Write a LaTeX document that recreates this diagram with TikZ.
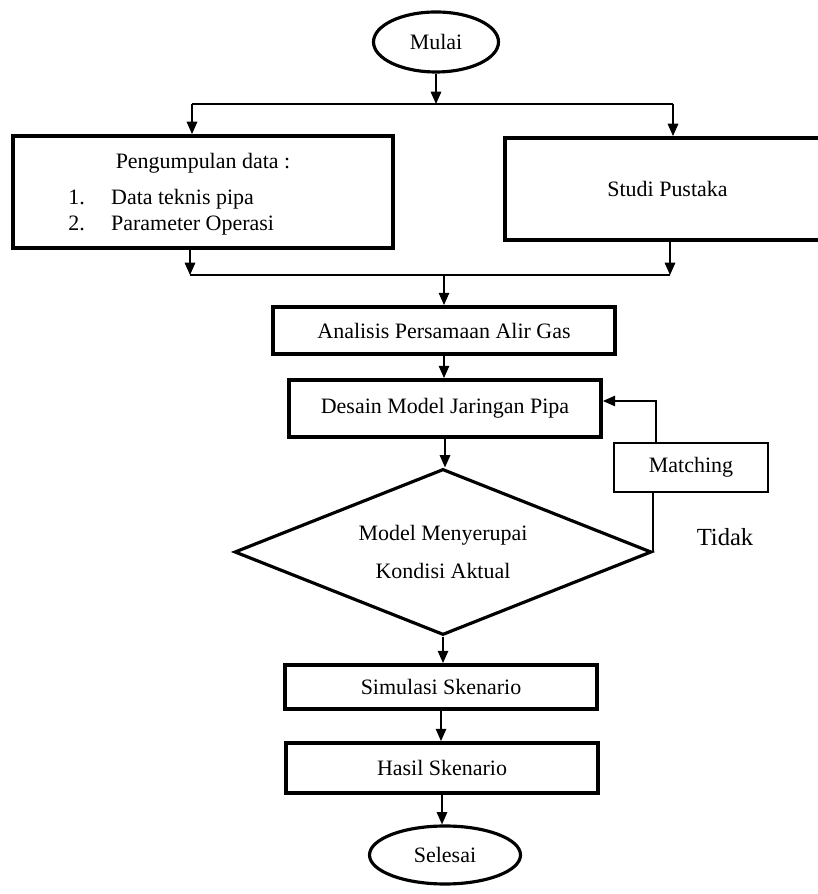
\documentclass[tikz,border=0pt]{standalone}
\usepackage{fontspec}
\setmainfont{Liberation Serif}
\usetikzlibrary{shapes.geometric,arrows.meta}
\pgfdeclarelayer{edgelayer}
\pgfdeclarelayer{nodelayer}
\pgfsetlayers{edgelayer,nodelayer,main}
\tikzstyle{edge}=[draw=black, line width=0.8pt]
\tikzstyle{flow}=[draw=black, line width=0.8pt, -{Triangle[width=6pt,length=7pt]}]
\tikzstyle{box}=[rectangle, draw=black, fill=white, line width=2.2pt, inner sep=0pt, font=\fontsize{12.5}{15}\selectfont]
\tikzstyle{thinbox}=[rectangle, draw=black, fill=white, line width=1.6pt, inner sep=0pt, font=\fontsize{12.5}{15}\selectfont]
\tikzstyle{terminal}=[ellipse, draw=black, fill=white, line width=1.8pt, inner sep=0pt, font=\fontsize{12.5}{15}\selectfont]
\tikzstyle{decision}=[diamond, draw=black, fill=white, line width=1.8pt, inner sep=0pt, aspect=2.51, align=center, font=\fontsize{12.5}{22}\selectfont]
\tikzstyle{txt}=[inner sep=0pt, font=\fontsize{12.5}{15}\selectfont]

\begin{document}
\begin{tikzpicture}
				\useasboundingbox (0, 0) rectangle (16.34, 17.88);
				\begin{pgfonlayer}{nodelayer}
					\node [style=terminal, minimum width=2.5cm, minimum height=1.2cm] (mulai) at (8.72, 17.04) {Mulai};
					\node [style=box, minimum width=7.6cm, minimum height=2.24cm] (data) at (4.06, 14.04) {};
					\node [style=txt] (datajudul) at (4.06, 14.62) {Pengumpulan data :};
					\node [style=txt, anchor=west] (data1) at (1.36, 13.90) {\makebox[1.95em][l]{1.}Data teknis pipa};
					\node [style=txt, anchor=west] (data2) at (1.36, 13.36) {\makebox[1.95em][l]{2.}Parameter Operasi};
					\node [style=box, minimum width=6.5cm, minimum height=2.04cm] (studi) at (13.35, 14.1) {Studi Pustaka};
					\node [style=box, minimum width=6.84cm, minimum height=0.94cm] (analisis) at (8.88, 11.27) {Analisis Persamaan Alir Gas};
					\node [style=box, minimum width=6.24cm, minimum height=1.14cm] (desain) at (8.90, 9.71) {Desain Model Jaringan Pipa};
					\node [style=thinbox, minimum width=3.08cm, minimum height=0.98cm] (matching) at (13.82, 8.53) {Matching};
					\node [style=decision, minimum width=8.34cm, minimum height=3.32cm] (cek) at (8.86, 6.84) {Model Menyerupai\\Kondisi Aktual};
					\node [style=txt, font=\fontsize{14}{17}\selectfont] (tidak) at (14.50, 7.14) {Tidak};
					\node [style=box, minimum width=6.24cm, minimum height=0.88cm] (simulasi) at (8.82, 4.14) {Simulasi Skenario};
					\node [style=box, minimum width=6.24cm, minimum height=1.0cm] (hasil) at (8.84, 2.52) {Hasil Skenario};
					\node [style=terminal, minimum width=3.02cm, minimum height=1.16cm] (selesai) at (8.90, 0.78) {Selesai};
				\end{pgfonlayer}
				\begin{pgfonlayer}{edgelayer}
					\coordinate (cabang) at (8.72, 15.80);
					\coordinate (cabangL) at (3.84, 15.80);
					\coordinate (cabangR) at (13.46, 15.80);
					\coordinate (gabungL) at (3.80, 12.38);
					\coordinate (gabungR) at (13.40, 12.38);
					\coordinate (gabung) at (8.88, 12.38);
					\coordinate (balik) at (13.12, 9.86);
					\draw [style=flow] (mulai) to (cabang);
					\draw [style=edge] (cabangL) to (cabangR);
					\draw [style=flow] (cabangL) to (cabangL |- data.north);
					\draw [style=flow] (cabangR) to (cabangR |- studi.north);
					\draw [style=flow] (gabungL |- data.south) to (gabungL);
					\draw [style=flow] (gabungR |- studi.south) to (gabungR);
					\draw [style=edge] (gabungL) to (gabungR);
					\draw [style=flow] (gabung) to (gabung |- analisis.north);
					\draw [style=flow] (analisis.south) to (analisis.south |- desain.north);
					\draw [style=flow] (desain.south) to (desain.south |- cek.north);
					\draw [style=edge] (cek.east) to (cek.east |- matching.south);
					\draw [style=flow] (balik |- matching.north) to (balik) to (desain.east |- balik);
					\draw [style=flow] (cek.south) to (cek.south |- simulasi.north);
					\draw [style=flow] (simulasi.south) to (simulasi.south |- hasil.north);
					\draw [style=flow] (hasil.south) to (hasil.south |- selesai.north);
				\end{pgfonlayer}
			\end{tikzpicture}
\end{document}
